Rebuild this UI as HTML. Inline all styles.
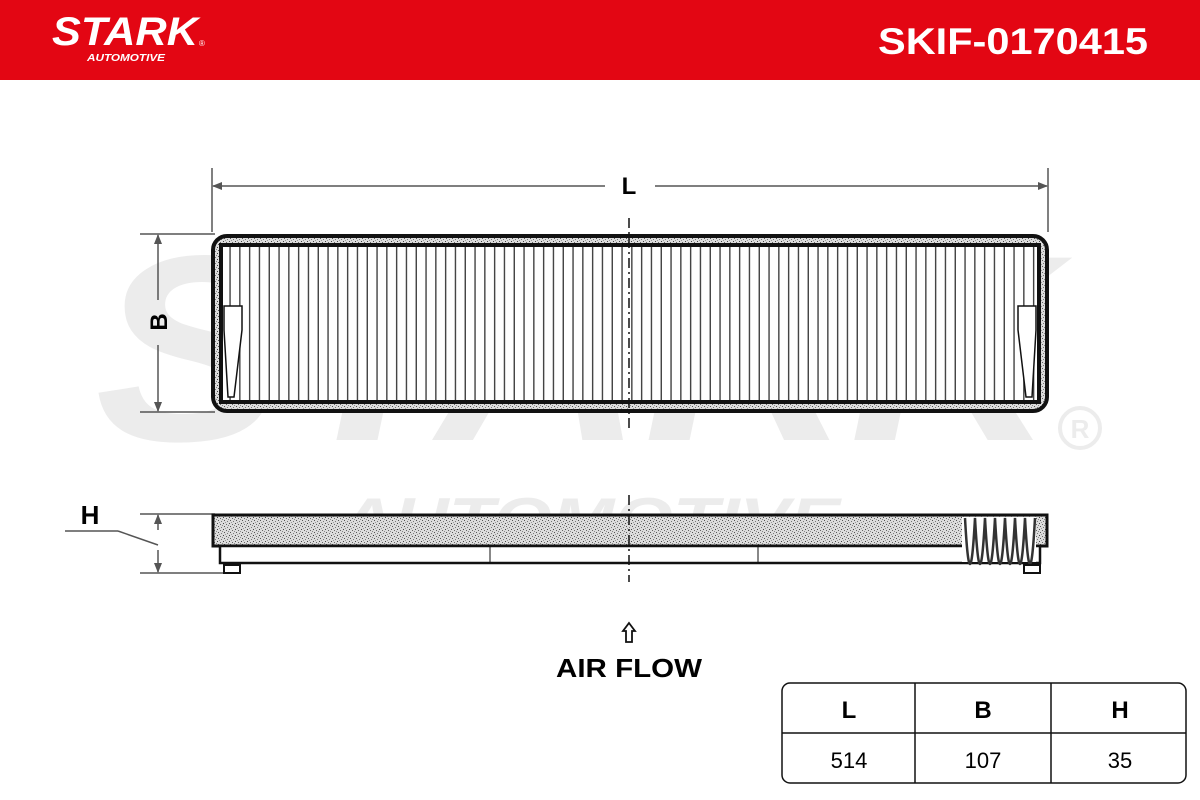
<!DOCTYPE html>
<html><head><meta charset="utf-8"><style>
html,body{margin:0;padding:0;background:#fff}
svg{display:block}
text{font-family:"Liberation Sans",sans-serif}
</style></head><body>
<svg width="1200" height="800" viewBox="0 0 1200 800" xmlns="http://www.w3.org/2000/svg">
<defs>
<pattern id="pleat" x="0" y="0" width="9.8" height="10" patternUnits="userSpaceOnUse">
<rect x="4" y="0" width="1.3" height="10" fill="#333"/>
</pattern>
<pattern id="stip" width="6" height="6" patternUnits="userSpaceOnUse">
<rect width="6" height="6" fill="#dcdcdc"/>
<rect x="1" y="1" width="1" height="1" fill="#444"/><rect x="4" y="2" width="1" height="1" fill="#666"/>
<rect x="2" y="4" width="1" height="1" fill="#555"/><rect x="5" y="5" width="1" height="1" fill="#777"/>
<rect x="0" y="3" width="1" height="1" fill="#888"/><rect x="3" y="0" width="1" height="1" fill="#999"/>
</pattern>
<marker id="ar" markerWidth="10" markerHeight="8" refX="9" refY="4" orient="auto" markerUnits="userSpaceOnUse">
<path d="M0,0 L10,4 L0,8 z" fill="#555"/></marker>
</defs>
<!-- header -->
<rect x="0" y="0" width="1200" height="80" fill="#e30613"/>
<text x="52" y="45" font-size="40" font-weight="bold" font-style="italic" fill="#fff" textLength="146" lengthAdjust="spacingAndGlyphs">STARK</text>
<text x="199" y="46" font-size="8" fill="#fff">®</text>
<text x="87" y="61" font-size="10" font-weight="bold" font-style="italic" fill="#fff" textLength="78" lengthAdjust="spacingAndGlyphs">AUTOMOTIVE</text>
<text x="1148" y="54" font-size="37" font-weight="bold" fill="#fff" text-anchor="end" textLength="270" lengthAdjust="spacingAndGlyphs">SKIF-0170415</text>
<!-- watermark -->
<text x="95" y="440" font-size="265" font-weight="bold" font-style="italic" fill="#ececec" textLength="960" lengthAdjust="spacingAndGlyphs">STARK</text>
<text x="340" y="540" font-size="60" font-weight="bold" font-style="italic" fill="#ececec" textLength="500" lengthAdjust="spacingAndGlyphs">AUTOMOTIVE</text>
<circle cx="1080" cy="428" r="20" fill="none" stroke="#ececec" stroke-width="4"/>
<text x="1080" y="438" font-size="26" font-weight="bold" fill="#ececec" text-anchor="middle">R</text>
<!-- dimensions -->
<g stroke="#555" stroke-width="1.5">
<line x1="212" y1="168" x2="212" y2="232"/><line x1="1048" y1="168" x2="1048" y2="232"/>
<line x1="605" y1="186" x2="213" y2="186" marker-end="url(#ar)"/>
<line x1="655" y1="186" x2="1047" y2="186" marker-end="url(#ar)"/>
<line x1="140" y1="234" x2="215" y2="234"/><line x1="140" y1="412" x2="215" y2="412"/>
<line x1="158" y1="300" x2="158" y2="235" marker-end="url(#ar)"/>
<line x1="158" y1="345" x2="158" y2="411" marker-end="url(#ar)"/>
<line x1="140" y1="514" x2="215" y2="514"/><line x1="140" y1="573" x2="225" y2="573"/>
<line x1="158" y1="530" x2="158" y2="515" marker-end="url(#ar)"/>
<line x1="158" y1="550" x2="158" y2="572" marker-end="url(#ar)"/>
<line x1="65" y1="531" x2="118" y2="531"/><line x1="118" y1="531" x2="158" y2="545"/>
</g>
<text x="629" y="194" font-size="24" font-weight="bold" text-anchor="middle">L</text>
<text transform="translate(167,322) rotate(-90)" font-size="24" font-weight="bold" text-anchor="middle">B</text>
<text x="90" y="524" font-size="26" font-weight="bold" text-anchor="middle">H</text>
<!-- top view -->
<rect x="213" y="236" width="834" height="175" rx="14" fill="url(#stip)" stroke="#111" stroke-width="4"/>
<rect x="221" y="245" width="818" height="157" fill="#fff" stroke="#111" stroke-width="4"/>
<rect x="223" y="247" width="814" height="153" fill="url(#pleat)"/>
<path d="M224,306 H242 V330 L234,397 L228,397 L224,330 Z" fill="#fff" stroke="#111" stroke-width="1.5"/>
<path d="M1036,306 H1018 V330 L1026,397 L1032,397 L1036,330 Z" fill="#fff" stroke="#111" stroke-width="1.5"/>
<line x1="629" y1="218" x2="629" y2="428" stroke="#111" stroke-width="1.5" stroke-dasharray="10,4,2,4"/>
<!-- side view -->
<rect x="213" y="515" width="834" height="31" fill="url(#stip)" stroke="#111" stroke-width="3"/>
<rect x="220" y="546" width="820" height="17" fill="#fff" stroke="#111" stroke-width="2.5"/>
<line x1="490" y1="546" x2="490" y2="563" stroke="#111"/><line x1="758" y1="546" x2="758" y2="563" stroke="#111"/>
<rect x="962" y="517" width="74" height="45" fill="#fff"/>
<path d="M965,518 Q970,610 975,518 Q980,610 985,518 Q990,610 995,518 Q1000,610 1005,518 Q1010,610 1015,518 Q1020,610 1025,518 Q1030,610 1035,518" fill="none" stroke="#333" stroke-width="2.5"/>
<rect x="224" y="565" width="16" height="8" fill="#fff" stroke="#111" stroke-width="2"/>
<rect x="1024" y="565" width="16" height="8" fill="#fff" stroke="#111" stroke-width="2"/>
<line x1="629" y1="495" x2="629" y2="582" stroke="#111" stroke-width="1.5" stroke-dasharray="10,4,2,4"/>
<!-- air flow -->
<path d="M629,623 L635,631 L632,631 L632,642 L626,642 L626,631 L623,631 Z" fill="#fff" stroke="#111" stroke-width="1.8"/>
<text x="629" y="677" font-size="26" font-weight="bold" text-anchor="middle" textLength="146" lengthAdjust="spacingAndGlyphs">AIR FLOW</text>
<!-- table -->
<rect x="782" y="683" width="404" height="100" rx="8" fill="#fff" stroke="#111" stroke-width="1.5"/>
<line x1="782" y1="733" x2="1186" y2="733" stroke="#111" stroke-width="1.5"/>
<line x1="915" y1="683" x2="915" y2="783" stroke="#111" stroke-width="1.5"/>
<line x1="1051" y1="683" x2="1051" y2="783" stroke="#111" stroke-width="1.5"/>
<text x="849" y="718" font-size="24" font-weight="bold" text-anchor="middle">L</text>
<text x="983" y="718" font-size="24" font-weight="bold" text-anchor="middle">B</text>
<text x="1120" y="718" font-size="24" font-weight="bold" text-anchor="middle">H</text>
<text x="849" y="768" font-size="22" text-anchor="middle">514</text>
<text x="983" y="768" font-size="22" text-anchor="middle">107</text>
<text x="1120" y="768" font-size="22" text-anchor="middle">35</text>
</svg>
</body></html>
